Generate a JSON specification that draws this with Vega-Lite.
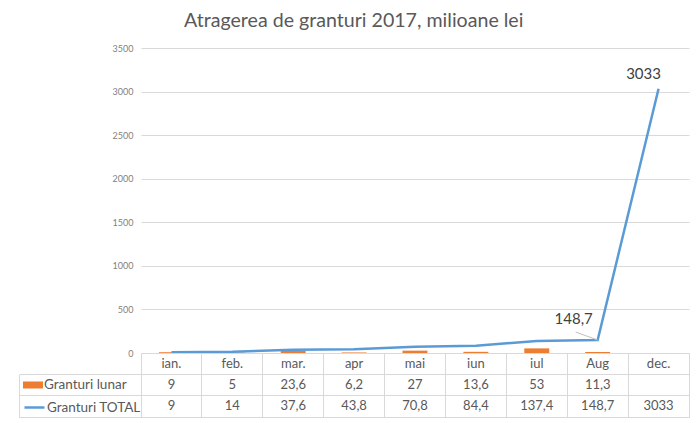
{
  "$schema": "https://vega.github.io/schema/vega-lite/v6.json",
  "background": "white",
  "padding": {"left": 18, "top": 11, "right": 12, "bottom": 7},
  "config": {
    "locale": {"number": {"decimal": ",", "thousands": ".", "grouping": [3], "currency": ["", ""]}},
    "font": "Lato",
    "view": {"stroke": null},
    "text": {"font": "Lato"}
  },
  "title": {"text": "Atragerea de granturi 2017, milioane lei", "fontSize": 19.6, "font": "Lato", "fontWeight": "normal", "color": "#595959", "anchor": "middle", "offset": 12},
  "datasets": {
    "granturi": [
      {"luna": "ian.", "lunar": 9, "total": 9},
      {"luna": "feb.", "lunar": 5, "total": 14},
      {"luna": "mar.", "lunar": 23.6, "total": 37.6},
      {"luna": "apr", "lunar": 6.2, "total": 43.8},
      {"luna": "mai", "lunar": 27, "total": 70.8},
      {"luna": "iun", "lunar": 13.6, "total": 84.4},
      {"luna": "iul", "lunar": 53, "total": 137.4},
      {"luna": "Aug", "lunar": 11.3, "total": 148.7},
      {"luna": "dec.", "lunar": null, "total": 3033}
    ]
  },
  "bounds": "flush",
  "spacing": 0,
  "resolve": {"scale": {"color": "independent", "stroke": "independent"}},
  "vconcat": [
    {
      "width": 548,
      "height": 305,
      "data": {"name": "granturi"},
      "encoding": {
        "x": {"field": "luna", "type": "nominal", "sort": null, "scale": {"type": "band", "paddingInner": 0.59, "paddingOuter": 0.295}, "axis": null}
      },
      "layer": [
        {
          "transform": [{"filter": {"field": "lunar", "valid": true}}],
          "mark": {"type": "bar"},
          "encoding": {
            "y": {"field": "lunar", "type": "quantitative", "title": null,
              "scale": {"domain": [0, 3500], "nice": false},
              "axis": {"values": [0, 500, 1000, 1500, 2000, 2500, 3000, 3500], "format": "d", "grid": true, "gridColor": "#d9d9d9", "domain": false, "ticks": false, "labelFontSize": 9, "labelColor": "#7f7f7f", "labelPadding": 8}},
            "color": {"datum": "Granturi lunar", "scale": {"range": ["#ED7D31"]},
              "legend": {"orient": "none", "legendX": -118, "legendY": 327, "title": null, "padding": 0, "symbolType": "M-1,-0.35H1V0.35H-1Z", "symbolSize": 400, "symbolStrokeWidth": 0, "labelFontSize": 13.5, "labelColor": "#595959", "labelFont": "Lato", "labelOffset": 1}}
          }
        },
        {
          "mark": {"type": "line", "strokeWidth": 2.5},
          "encoding": {
            "y": {"field": "total", "type": "quantitative"},
            "stroke": {"datum": "Granturi TOTAL", "scale": {"range": ["#5B9BD5"]},
              "legend": {"orient": "none", "legendX": -118, "legendY": 348, "title": null, "padding": 0, "symbolType": "stroke", "symbolSize": 400, "symbolStrokeWidth": 2.5, "labelFontSize": 13.5, "labelColor": "#595959", "labelFont": "Lato", "labelOffset": 1}}
          }
        },
        {
          "transform": [{"filter": "datum.luna == 'Aug'"}],
          "mark": {"type": "rule", "color": "#bfbfbf", "strokeWidth": 1, "x2Offset": -22, "y2Offset": -8},
          "encoding": {
            "y": {"field": "total", "type": "quantitative"},
            "x2": {"field": "luna"},
            "y2": {"field": "total"}
          }
        },
        {
          "transform": [{"filter": "datum.luna == 'dec.'"}],
          "mark": {"type": "text", "dx": -15, "dy": -15, "fontSize": 15, "color": "#404040"},
          "encoding": {
            "y": {"field": "total", "type": "quantitative"},
            "text": {"field": "total", "type": "quantitative", "format": "~g"}
          }
        },
        {
          "transform": [{"filter": "datum.luna == 'Aug'"}],
          "mark": {"type": "text", "dx": -24, "dy": -21, "fontSize": 15, "color": "#404040"},
          "encoding": {
            "y": {"field": "total", "type": "quantitative"},
            "text": {"field": "total", "type": "quantitative", "format": "~g"}
          }
        }
      ]
    },
    {
      "width": 548,
      "height": 64,
      "data": {"name": "granturi"},
      "view": {"stroke": "#d9d9d9"},
      "resolve": {"scale": {"y": "independent"}, "axis": {"y": "independent"}},
      "encoding": {
        "x": {"field": "luna", "type": "nominal", "sort": null, "scale": {"type": "band", "padding": 0},
          "axis": {"orient": "top", "grid": true, "bandPosition": 0, "labels": false, "ticks": false, "domain": false, "gridColor": "#d9d9d9", "title": null}}
      },
      "layer": [
        {
          "mark": {"type": "text", "fontSize": 13, "color": "#595959"},
          "encoding": {
            "y": {"datum": "h", "type": "nominal",
              "scale": {"type": "band", "domain": ["h", "Granturi lunar", "Granturi TOTAL"], "padding": 0},
              "axis": {"bandPosition": 1, "grid": true, "gridColor": "#d9d9d9", "ticks": true, "tickSize": 122, "tickColor": "#d9d9d9", "labels": false, "domain": false, "title": null}},
            "text": {"field": "luna"}
          }
        },
        {
          "transform": [{"filter": {"field": "lunar", "valid": true}}],
          "mark": {"type": "text", "fontSize": 13, "color": "#595959"},
          "encoding": {
            "y": {"datum": "Granturi lunar", "type": "nominal",
              "scale": {"type": "band", "domain": ["h", "Granturi lunar", "Granturi TOTAL"], "padding": 0},
              "axis": null},
            "text": {"field": "lunar", "type": "quantitative", "format": "~g"}
          }
        },
        {
          "mark": {"type": "text", "fontSize": 13, "color": "#595959"},
          "encoding": {
            "y": {"datum": "Granturi TOTAL", "type": "nominal",
              "scale": {"type": "band", "domain": ["Granturi lunar", "Granturi TOTAL"], "range": [21.33, 64], "padding": 0},
              "axis": {"orient": "left", "offset": 122, "domain": true, "domainColor": "#d9d9d9", "ticks": false, "labels": false, "grid": false, "title": null}},
            "text": {"field": "total", "type": "quantitative", "format": "~g"}
          }
        }
      ]
    }
  ]
}
